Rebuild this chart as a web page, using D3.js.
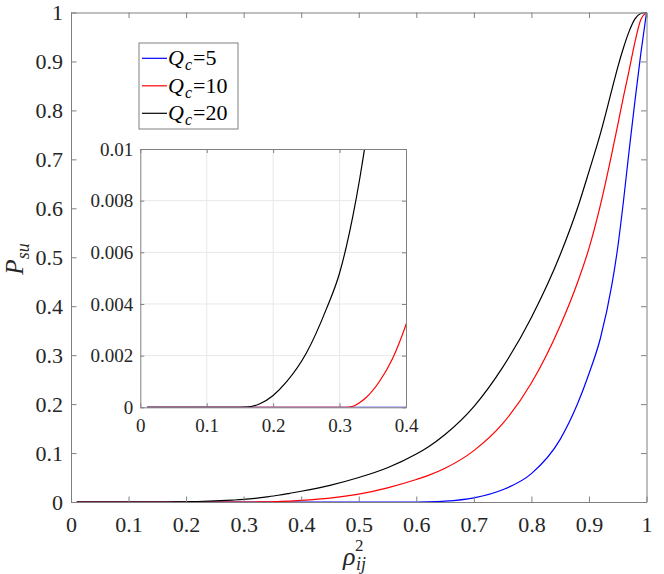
<!DOCTYPE html>
<html>
<head>
<meta charset="utf-8">
<script src="https://cdn.jsdelivr.net/npm/d3@7"></script>
<style>
  body { margin: 0; background: #fff; }
  svg { display: block; }
  .axis text { fill: #262626; }
  .axis .domain, .axis line { stroke: #808080; }
  .grid line { stroke: #e8e8e8; }
</style>
</head>
<body>
<svg width="664" height="574" font-family="Liberation Serif"></svg>
<script>
// rho_ij^2 grid shared by all curves
const rho2 = [0.01, 0.1, 0.15, 0.16, 0.18, 0.2, 0.22, 0.25, 0.28, 0.3, 0.31, 0.32, 0.33, 0.34, 0.36,
  0.38, 0.4, 0.45, 0.5, 0.55, 0.6, 0.62, 0.65, 0.7, 0.75, 0.8, 0.85, 0.88, 0.9, 0.92, 0.94, 0.95,
  0.96, 0.97, 0.98, 0.99, 1];

// P_su for each Q_c
const psuQ5 = [0, 0, 0, 0, 0, 0, 0, 0, 0, 0, 0, 0, 0, 0, 0, 0, 0, 0, 0, 0, 0,
  0.0003, 0.0017, 0.0085, 0.025, 0.058, 0.128, 0.2, 0.262, 0.335, 0.445, 0.52, 0.615, 0.72, 0.82,
  0.915, 1];
const psuQ10 = [0, 0, 0, 0, 0, 0, 0, 0, 0, 0, 0,
  0.00004, 0.00018, 0.00038, 0.001, 0.0019, 0.0032, 0.0078, 0.016, 0.029, 0.046, 0.054, 0.069,
  0.105, 0.16, 0.243, 0.36, 0.448, 0.518, 0.607, 0.713, 0.77, 0.828, 0.883, 0.94, 0.985, 1];
const psuQ20 = [0, 0, 0, 0.000005, 0.00014, 0.00046, 0.00098, 0.0021, 0.0038, 0.0052, 0.0062, 0.0074,
  0.0088, 0.0104, 0.0138, 0.0178, 0.022, 0.034, 0.05, 0.07, 0.098, 0.112, 0.138, 0.195, 0.275, 0.377,
  0.505, 0.6, 0.675, 0.753, 0.843, 0.888, 0.928, 0.962, 0.987, 0.998, 1];

const qValues = [5, 10, 20];

const xTicks = [0, 0.1, 0.2, 0.3, 0.4, 0.5, 0.6, 0.7, 0.8, 0.9, 1];
const yTicks = [0, 0.1, 0.2, 0.3, 0.4, 0.5, 0.6, 0.7, 0.8, 0.9, 1];
const insetXTicks = [0, 0.1, 0.2, 0.3, 0.4];
const insetYTicks = [0, 0.002, 0.004, 0.006, 0.008, 0.01];

(function () {
  "use strict";
  const FONT = "Liberation Serif";
  const svg = d3.select("svg");

  const colors = ["#0000ff", "#ff0000", "#000000"];
  const series = [psuQ5, psuQ10, psuQ20].map((vals, i) => ({
    q: qValues[i],
    color: colors[i],
    points: rho2.map((r, j) => [r, vals[j]])
  }));

  const fmt = (d) => (d === 0 ? "0" : String(d));

  // ---------- main axes ----------
  const xScale = d3.scaleLinear().domain([0, 1]).range([71, 646.5]);
  const yScale = d3.scaleLinear().domain([0, 1]).range([502, 12.5]);

  const drawBox = (g, xs, ys, xt, yt, tk, fontSize, xPad, yPad) => {
    const [x0, x1] = xs.range();
    const [y0, y1] = ys.range();
    const axes = [
      g.append("g").attr("transform", `translate(0,${y0})`)
        .call(d3.axisBottom(xs).tickValues(xt).tickSize(-tk).tickSizeOuter(0).tickPadding(xPad).tickFormat(fmt)),
      g.append("g").attr("transform", `translate(0,${y1})`)
        .call(d3.axisTop(xs).tickValues(xt).tickSize(-tk).tickSizeOuter(0).tickFormat("")),
      g.append("g").attr("transform", `translate(${x0},0)`)
        .call(d3.axisLeft(ys).tickValues(yt).tickSize(-tk).tickSizeOuter(0).tickPadding(yPad).tickFormat(fmt)),
      g.append("g").attr("transform", `translate(${x1},0)`)
        .call(d3.axisRight(ys).tickValues(yt).tickSize(-tk).tickSizeOuter(0).tickFormat(""))
    ];
    axes.forEach((a) => {
      a.attr("class", "axis").attr("font-family", FONT).attr("font-size", fontSize);
      a.selectAll("text").attr("font-family", FONT).attr("font-size", fontSize);
    });
  };

  const mainG = svg.append("g");
  mainG.append("rect")
    .attr("x", 71).attr("y", 12.5)
    .attr("width", 646.5 - 71).attr("height", 502 - 12.5)
    .attr("fill", "#fff");

  const line = (xs, ys) => d3.line()
    .x((d) => xs(d[0]))
    .y((d) => ys(d[1]))
    .curve(d3.curveMonotoneX);

  mainG.selectAll("path.curve")
    .data(series)
    .join("path")
    .attr("class", "curve")
    .attr("fill", "none")
    .attr("stroke", (d) => d.color)
    .attr("stroke-width", 1.2)
    .attr("d", (d) => line(xScale, yScale)(d.points));

  drawBox(mainG, xScale, yScale, xTicks, yTicks, 5.5, 22, 14, 8);

  // axis labels
  const ylab = svg.append("text")
    .attr("transform", "translate(23,259) rotate(-90)")
    .attr("text-anchor", "middle")
    .attr("fill", "#262626")
    .attr("font-family", FONT)
    .attr("font-style", "italic");
  ylab.append("tspan").attr("font-size", 25).text("P");
  ylab.append("tspan").attr("font-size", 18).attr("dy", 6).text("su");

  const xlab = svg.append("g").attr("fill", "#262626")
    .attr("font-family", FONT).attr("font-style", "italic");
  xlab.append("text").attr("x", 343).attr("y", 565).attr("font-size", 26).text("ρ");
  xlab.append("text").attr("x", 355).attr("y", 551).attr("font-size", 17)
    .attr("font-style", "normal").text("2");
  xlab.append("text").attr("x", 356).attr("y", 570).attr("font-size", 18).text("ij");

  // ---------- legend ----------
  const legend = svg.append("g");
  legend.append("rect")
    .attr("x", 139).attr("y", 43)
    .attr("width", 99).attr("height", 86)
    .attr("fill", "#fff")
    .attr("stroke", "#808080");
  const rows = legend.selectAll("g.row")
    .data(series)
    .join("g")
    .attr("class", "row")
    .attr("transform", (d, i) => `translate(0,${58.3 + i * 27.5})`);
  rows.append("line")
    .attr("x1", 142).attr("x2", 167)
    .attr("stroke", (d) => d.color)
    .attr("stroke-width", 1.2);
  const lt = rows.append("text")
    .attr("x", 168).attr("y", 7)
    .attr("fill", "#000")
    .attr("font-family", FONT)
    .attr("font-size", 22);
  lt.append("tspan").attr("font-style", "italic").text("Q");
  lt.append("tspan").attr("font-style", "italic").attr("font-size", 16).attr("dy", 5).attr("dx", 1).text("c");
  lt.append("tspan").attr("dy", -5).attr("dx", 1).text((d) => "=" + d.q);

  // ---------- inset ----------
  const ix = d3.scaleLinear().domain([0, 0.4]).range([140.3, 406]);
  const iy = d3.scaleLinear().domain([0, 0.01]).range([407.3, 149]);
  const inset = svg.append("g");
  inset.append("rect")
    .attr("x", 140.3).attr("y", 149)
    .attr("width", 406 - 140.3).attr("height", 407.3 - 149)
    .attr("fill", "#fff");

  inset.append("g").attr("class", "grid")
    .selectAll("line")
    .data(insetXTicks.slice(1, -1))
    .join("line")
    .attr("x1", (d) => ix(d)).attr("x2", (d) => ix(d))
    .attr("y1", 149).attr("y2", 407.3);
  inset.append("g").attr("class", "grid")
    .selectAll("line")
    .data(insetYTicks.slice(1, -1))
    .join("line")
    .attr("x1", 140.3).attr("x2", 406)
    .attr("y1", (d) => iy(d)).attr("y2", (d) => iy(d));

  svg.append("defs").append("clipPath").attr("id", "insetClip")
    .append("rect")
    .attr("x", 140.3).attr("y", 149)
    .attr("width", 406 - 140.3).attr("height", 407.3 - 149);

  inset.append("g").attr("clip-path", "url(#insetClip)")
    .selectAll("path")
    .data(series)
    .join("path")
    .attr("fill", "none")
    .attr("stroke", (d) => d.color)
    .attr("stroke-width", 1.2)
    .attr("d", (d) => line(ix, iy)(d.points.filter((p) => p[0] <= 0.45)));

  drawBox(inset, ix, iy, insetXTicks, insetYTicks, 4, 19, 11, 7);
})();
</script>
</body>
</html>
